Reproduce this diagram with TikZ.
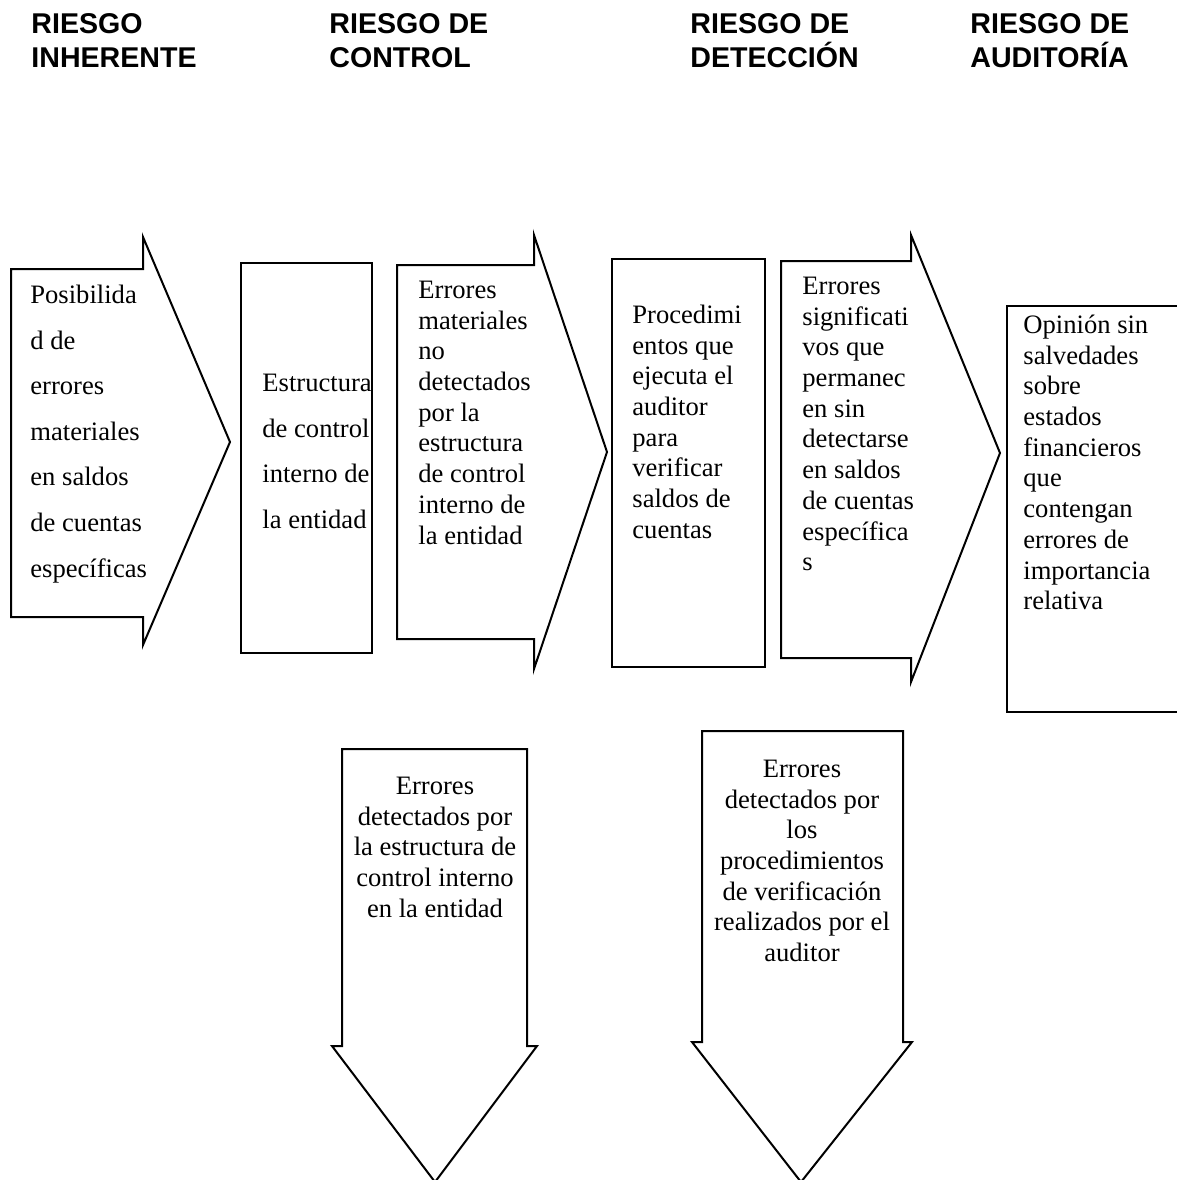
\documentclass[tikz,border=0pt]{standalone}
\usepackage{fontspec}
\setmainfont{Liberation Serif}
\newfontfamily\headfont{Liberation Sans}
\newcommand{\firstline}{\rule{0pt}{10pt}}
\begin{document}
\begin{tikzpicture}[x=0.5pt,y=-0.5pt,
  shape line/.style={draw=black,line width=1pt,line join=miter,fill=white},
  head/.style={anchor=north west,inner sep=0pt,align=left,
    font=\headfont\bfseries\fontsize{14.3}{17}\selectfont},
  body/.style={anchor=north west,inner sep=0pt,align=left,
    font=\fontsize{13.3}{15.35}\selectfont},
  wide body/.style={anchor=north west,inner sep=0pt,align=left,
    font=\fontsize{13.3}{22.8}\selectfont},
  center body/.style={anchor=north,inner sep=0pt,align=center,
    font=\fontsize{13.3}{15.35}\selectfont}]
\useasboundingbox[fill=white] (0,0) rectangle (1177,1180);

% column headings
\node[head] (h1) at (31,13) {\firstline RIESGO\\INHERENTE};
\node[head] (h2) at (329,13) {\firstline RIESGO DE\\CONTROL};
\node[head] (h3) at (690,13) {\firstline RIESGO DE\\DETECCIÓN};
\node[head] (h4) at (970,13) {\firstline RIESGO DE\\AUDITORÍA};

% horizontal chain of arrows and boxes
\draw[shape line] (11,269) -- (143,269) -- (143,237) -- (230,442)
  -- (143,645) -- (143,617) -- (11,617) -- cycle;
\draw[shape line] (241,263) rectangle (372,653);
\draw[shape line] (397,265) -- (534,265) -- (534,235) -- (607,452)
  -- (534,669) -- (534,639) -- (397,639) -- cycle;
\draw[shape line] (612,259) rectangle (765,667);
\draw[shape line] (781,261) -- (911,261) -- (911,235) -- (1000,453)
  -- (911,682) -- (911,658) -- (781,658) -- cycle;
\draw[shape line] (1007,306) rectangle (1180,712);

% downward arrows
\draw[shape line] (342,749) -- (527,749) -- (527,1046) -- (537,1046)
  -- (435,1182) -- (332,1046) -- (342,1046) -- cycle;
\draw[shape line] (702,731) -- (903,731) -- (903,1042) -- (912,1042)
  -- (801,1182) -- (692,1042) -- (702,1042) -- cycle;

% texts
\node[wide body] (t1) at (30,283) {\firstline Posibilida\\d de\\errores\\materiales\\en saldos\\de cuentas\\específicas};
\node[wide body] (t2) at (262,371) {\firstline Estructura\\de control\\interno de\\la entidad};
\node[body] (t3) at (418,278) {\firstline Errores\\materiales\\no\\detectados\\por la\\estructura\\de control\\interno de\\la entidad};
\node[body] (t4) at (632,303) {\firstline Procedimi\\entos que\\ejecuta el\\auditor\\para\\verificar\\saldos de\\cuentas};
\node[body] (t5) at (802,274) {\firstline Errores\\significati\\vos que\\permanec\\en sin\\detectarse\\en saldos\\de cuentas\\específica\\s};
\node[body] (t6) at (1023,313) {\firstline Opinión sin\\salvedades\\sobre\\estados\\financieros\\que\\contengan\\errores de\\importancia\\relativa};
\node[center body] (t7) at (435,774) {\firstline Errores\\detectados por\\la estructura de\\control interno\\en la entidad};
\node[center body] (t8) at (802,757) {\firstline Errores\\detectados por\\los\\procedimientos\\de verificación\\realizados por el\\auditor};
\end{tikzpicture}
\end{document}
